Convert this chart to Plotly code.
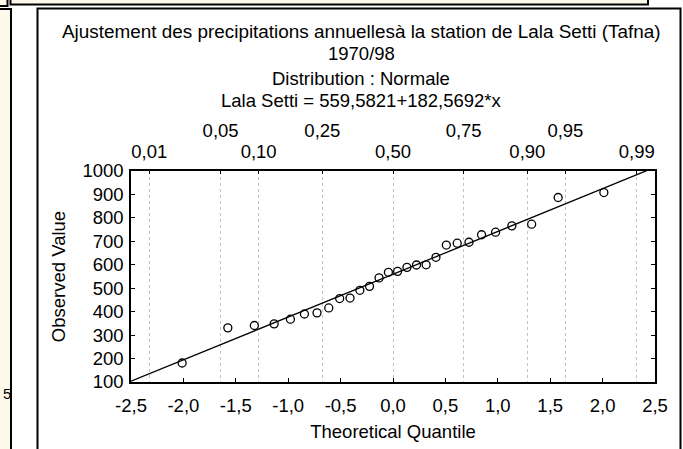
import plotly.graph_objects as go

# ---------------- data ----------------
theoretical_quantile = [-2.012, -1.576, -1.323, -1.134, -0.979, -0.845, -0.725,
                        -0.613, -0.509, -0.410, -0.316, -0.224, -0.133, -0.044,
                        0.044, 0.133, 0.224, 0.316, 0.410, 0.509, 0.613,
                        0.725, 0.845, 0.979, 1.134, 1.323, 1.576, 2.012]
observed_value = [181, 331, 341, 348, 368, 390, 395, 416, 456, 458, 491, 508,
                  544, 568, 572, 589, 599, 600, 632, 684, 692, 696, 728, 739,
                  766, 773, 887, 908]
fit_intercept = 559.5821
fit_slope = 182.5692
fit_x = [-2.5, 2.5]

x_tick_vals = [-2.5, -2.0, -1.5, -1.0, -0.5, 0.0, 0.5, 1.0, 1.5, 2.0, 2.5]
x_tick_text = ["-2,5", "-2,0", "-1,5", "-1,0", "-0,5", "0,0", "0,5", "1,0", "1,5", "2,0", "2,5"]
y_tick_vals = [100, 200, 300, 400, 500, 600, 700, 800, 900, 1000]
y_tick_text = ["100", "200", "300", "400", "500", "600", "700", "800", "900", "1000"]

prob_z = [-2.326, -1.645, -1.282, -0.674, 0.0, 0.674, 1.282, 1.645, 2.326]
prob_labels = ["0,01", "0,05", "0,10", "0,25", "0,50", "0,75", "0,90", "0,95", "0,99"]
prob_row_low = [0, 2, 4, 6, 8]
prob_row_high = [1, 3, 5, 7]

title_lines = ["Ajustement des precipitations annuellesà la station de Lala Setti (Tafna)",
               "1970/98",
               "Distribution : Normale",
               "Lala Setti = 559,5821+182,5692*x"]

# ---------------- geometry ----------------
W, H = 683, 449
L, R, T, B = 131, 28, 171, 67
PW, PH = W - L - R, H - T - B
FONT = "Liberation Sans, Arial, sans-serif"
FS = 18.5
CREAM = "#fdf8ea"


def px(x):
    return (x - L) / PW


def py(y):
    return (H - B - y) / PH


fit_y = [fit_intercept + fit_slope * v for v in fit_x]

fig = go.Figure()
fig.add_trace(go.Scatter(x=fit_x, y=fit_y, mode="lines",
                         line=dict(color="black", width=1.3),
                         hoverinfo="skip", showlegend=False))
fig.add_trace(go.Scatter(x=theoretical_quantile, y=observed_value, mode="markers",
                         marker=dict(symbol="circle-open", size=8, color="black",
                                     line=dict(color="black", width=1.3)),
                         showlegend=False, cliponaxis=False))
fig.add_trace(go.Scatter(x=[prob_z[i] for i in prob_row_low], y=[None] * len(prob_row_low),
                         xaxis="x2", mode="markers", showlegend=False, hoverinfo="skip"))
fig.add_trace(go.Scatter(x=[prob_z[i] for i in prob_row_high], y=[None] * len(prob_row_high),
                         xaxis="x3", mode="markers", showlegend=False, hoverinfo="skip"))

shapes = [
    dict(type="rect", xref="paper", yref="paper", layer="below",
         x0=px(37.5), x1=px(680.5), y0=py(8.5), y1=py(480),
         line=dict(color="black", width=2), fillcolor="white"),
    dict(type="rect", xref="paper", yref="paper", layer="below",
         x0=px(-6), x1=px(11), y0=py(9), y1=py(480),
         line=dict(color="black", width=2), fillcolor=CREAM),
    dict(type="rect", xref="paper", yref="paper", layer="below",
         x0=px(10.5), x1=px(648), y0=py(-10), y1=py(4.5),
         line=dict(color="black", width=2), fillcolor=CREAM),
    dict(type="rect", xref="paper", yref="paper", layer="below",
         x0=px(-6), x1=px(7.5), y0=py(-10), y1=py(6),
         line=dict(color="black", width=2), fillcolor=CREAM),
]

title_y = [31, 53, 78, 101]
title_fs = [18.9, 18.5, 18.5, 18.5]
annotations = [dict(text=t, x=px(361), y=py(yy), xref="paper", yref="paper",
                    xanchor="center", yanchor="middle", showarrow=False,
                    font=dict(family=FONT, size=fs, color="black"))
               for t, yy, fs in zip(title_lines, title_y, title_fs)]
annotations.append(dict(text="5", x=px(0.5), y=py(393), xref="paper", yref="paper",
                        xanchor="left", yanchor="middle", showarrow=False,
                        font=dict(family=FONT, size=15, color="black")))

axis_font = dict(family=FONT, size=FS, color="black")

fig.update_layout(
    width=W, height=H,
    margin=dict(l=L, r=R, t=T, b=B, autoexpand=False),
    paper_bgcolor="white", plot_bgcolor="white",
    font=axis_font,
    shapes=shapes, annotations=annotations,
    xaxis=dict(range=[-2.5, 2.5], tickvals=x_tick_vals, ticktext=x_tick_text,
               ticks="inside", ticklen=4, tickcolor="black", tickwidth=1,
               showline=True, linecolor="black", linewidth=2, mirror=True,
               showgrid=False, zeroline=False, tickfont=axis_font,
               ticklabelstandoff=6,
               title=dict(text="Theoretical Quantile", font=axis_font, standoff=10),
               automargin=False),
    yaxis=dict(range=[100, 1000], tickvals=y_tick_vals, ticktext=y_tick_text,
               ticks="inside", ticklen=4, tickcolor="black", tickwidth=1,
               showline=True, linecolor="black", linewidth=1.5, mirror="ticks",
               showgrid=False, zeroline=False, tickfont=axis_font,
               ticklabelstandoff=2,
               title=dict(text="Observed Value", font=axis_font, standoff=12),
               automargin=False),
    xaxis2=dict(range=[-2.5, 2.5], overlaying="x", side="top", anchor="y",
                tickvals=prob_z, ticktext=[prob_labels[i] if i in prob_row_low else "" for i in range(len(prob_z))],
                ticks="inside", ticklen=3, tickcolor="black",
                showgrid=True, gridcolor="#c4c4c4", griddash="dot", gridwidth=1,
                showline=False, zeroline=False, tickfont=axis_font,
                ticklabelstandoff=8, automargin=False),
    xaxis3=dict(range=[-2.5, 2.5], overlaying="x", side="top", anchor="y",
                tickvals=[prob_z[i] for i in prob_row_high],
                ticktext=[prob_labels[i] for i in prob_row_high],
                ticks="", showgrid=False, showline=False, zeroline=False,
                tickfont=axis_font, ticklabelstandoff=29, automargin=False),
)

fig.write_html("out.html", config={"displayModeBar": False},
               post_script="document.body.style.margin='0';")
